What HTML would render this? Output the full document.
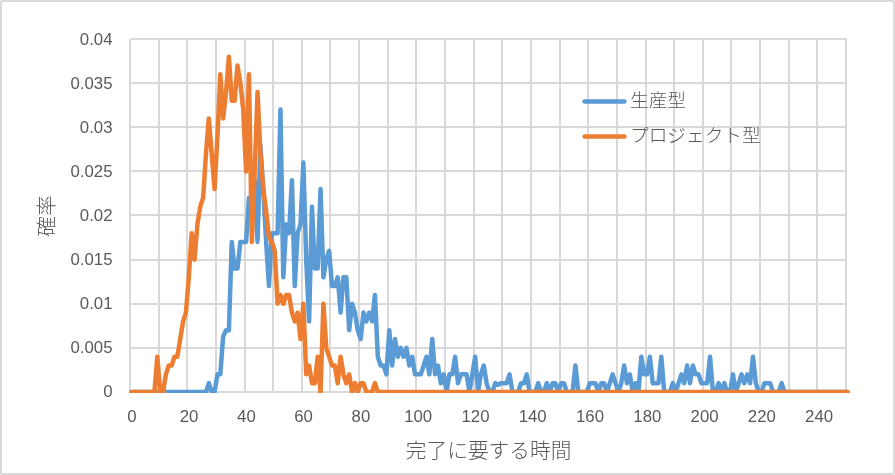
<!DOCTYPE html>
<html><head><meta charset="utf-8"><style>
html,body{margin:0;padding:0;background:#fff;}
svg{display:block;}
.t{font-family:"Liberation Sans","Noto Sans CJK JP",sans-serif;fill:#595959;}
.j{font-family:"Liberation Sans","Noto Sans CJK JP",sans-serif;fill:#595959;font-weight:300;}
</style></head><body>
<svg width="895" height="475" viewBox="0 0 895 475">
<rect x="1" y="1" width="893" height="473" rx="1" fill="#fff" stroke="#d9d9d9" stroke-width="2"/>
<defs><clipPath id="pc"><rect x="0" y="0" width="895" height="393"/></clipPath></defs>
<g stroke="#d9d9d9" stroke-width="2" fill="none">
<line x1="130" y1="38.9" x2="130" y2="393"/>
<line x1="159" y1="38.9" x2="159" y2="393"/>
<line x1="187" y1="38.9" x2="187" y2="393"/>
<line x1="216" y1="38.9" x2="216" y2="393"/>
<line x1="245" y1="38.9" x2="245" y2="393"/>
<line x1="273" y1="38.9" x2="273" y2="393"/>
<line x1="302" y1="38.9" x2="302" y2="393"/>
<line x1="330" y1="38.9" x2="330" y2="393"/>
<line x1="359" y1="38.9" x2="359" y2="393"/>
<line x1="388" y1="38.9" x2="388" y2="393"/>
<line x1="416" y1="38.9" x2="416" y2="393"/>
<line x1="445" y1="38.9" x2="445" y2="393"/>
<line x1="474" y1="38.9" x2="474" y2="393"/>
<line x1="502" y1="38.9" x2="502" y2="393"/>
<line x1="531" y1="38.9" x2="531" y2="393"/>
<line x1="560" y1="38.9" x2="560" y2="393"/>
<line x1="588" y1="38.9" x2="588" y2="393"/>
<line x1="617" y1="38.9" x2="617" y2="393"/>
<line x1="646" y1="38.9" x2="646" y2="393"/>
<line x1="674" y1="38.9" x2="674" y2="393"/>
<line x1="703" y1="38.9" x2="703" y2="393"/>
<line x1="731" y1="38.9" x2="731" y2="393"/>
<line x1="760" y1="38.9" x2="760" y2="393"/>
<line x1="789" y1="38.9" x2="789" y2="393"/>
<line x1="817" y1="38.9" x2="817" y2="393"/>
<line x1="846" y1="38.9" x2="846" y2="393"/>
<line x1="130.1" y1="39" x2="847" y2="39"/>
<line x1="130.1" y1="83" x2="847" y2="83"/>
<line x1="130.1" y1="127" x2="847" y2="127"/>
<line x1="130.1" y1="171" x2="847" y2="171"/>
<line x1="130.1" y1="215" x2="847" y2="215"/>
<line x1="130.1" y1="260" x2="847" y2="260"/>
<line x1="130.1" y1="304" x2="847" y2="304"/>
<line x1="130.1" y1="348" x2="847" y2="348"/>
<line x1="130.1" y1="392" x2="847" y2="392"/>
</g>
<g class="t" font-size="16.8">
<text x="112.5" y="45.1" text-anchor="end">0.04</text>
<text x="112.5" y="89.1" text-anchor="end">0.035</text>
<text x="112.5" y="133.1" text-anchor="end">0.03</text>
<text x="112.5" y="177.1" text-anchor="end">0.025</text>
<text x="112.5" y="221.1" text-anchor="end">0.02</text>
<text x="112.5" y="265.1" text-anchor="end">0.015</text>
<text x="112.5" y="309.1" text-anchor="end">0.01</text>
<text x="112.5" y="353.1" text-anchor="end">0.005</text>
<text x="112.5" y="397.1" text-anchor="end">0</text>
<text x="131.8" y="422.3" text-anchor="middle">0</text>
<text x="189.1" y="422.3" text-anchor="middle">20</text>
<text x="246.4" y="422.3" text-anchor="middle">40</text>
<text x="303.6" y="422.3" text-anchor="middle">60</text>
<text x="360.9" y="422.3" text-anchor="middle">80</text>
<text x="418.2" y="422.3" text-anchor="middle">100</text>
<text x="475.5" y="422.3" text-anchor="middle">120</text>
<text x="532.7" y="422.3" text-anchor="middle">140</text>
<text x="590.0" y="422.3" text-anchor="middle">160</text>
<text x="647.3" y="422.3" text-anchor="middle">180</text>
<text x="704.6" y="422.3" text-anchor="middle">200</text>
<text x="761.8" y="422.3" text-anchor="middle">220</text>
<text x="819.1" y="422.3" text-anchor="middle">240</text>
</g>
<g fill="none" stroke-width="4.5" stroke-linejoin="round" stroke-linecap="round">
<g clip-path="url(#pc)">
<path stroke="#5B9BD5" d="M131.53,392.00 L134.40,392.00 L137.26,392.00 L140.12,392.00 L142.99,392.00 L145.85,392.00 L148.71,392.00 L151.58,392.00 L154.44,392.00 L157.31,392.00 L160.17,392.00 L163.03,392.00 L165.90,392.00 L168.76,392.00 L171.63,392.00 L174.49,392.00 L177.35,392.00 L180.22,392.00 L183.08,392.00 L185.94,392.00 L188.81,392.00 L191.67,392.00 L194.54,392.00 L197.40,392.00 L200.26,392.00 L203.13,392.00 L205.99,392.00 L208.85,383.18 L211.72,392.00 L214.58,392.00 L217.45,374.35 L220.31,374.35 L223.17,336.40 L226.04,330.23 L228.90,330.23 L231.76,241.97 L234.63,268.45 L237.49,268.45 L240.36,241.97 L243.22,241.97 L246.08,241.97 L248.95,197.85 L251.81,215.50 L254.68,180.20 L257.54,241.97 L260.40,144.90 L263.27,189.03 L266.13,241.97 L268.99,286.10 L271.86,233.15 L274.72,233.15 L277.59,233.15 L280.45,109.60 L283.31,277.27 L286.18,224.33 L289.04,233.15 L291.90,180.20 L294.77,286.10 L297.63,233.15 L300.50,224.33 L303.36,162.55 L306.22,259.62 L309.09,321.40 L311.95,206.67 L314.82,268.45 L317.68,268.45 L320.54,189.03 L323.41,277.27 L326.27,259.62 L329.13,250.80 L332.00,286.10 L334.86,286.10 L337.73,277.27 L340.59,312.57 L343.45,277.27 L346.32,277.27 L349.18,330.23 L352.04,303.75 L354.91,312.57 L357.77,330.23 L360.64,339.05 L363.50,312.57 L366.36,321.40 L369.23,312.57 L372.09,321.40 L374.95,294.93 L377.82,356.70 L380.68,365.52 L383.55,365.52 L386.41,374.35 L389.27,330.23 L392.14,365.52 L395.00,339.05 L397.87,356.70 L400.73,347.88 L403.59,356.70 L406.46,347.88 L409.32,365.52 L412.18,356.70 L415.05,374.35 L417.91,374.35 L420.78,374.35 L423.64,365.52 L426.50,356.70 L429.37,374.35 L432.23,339.05 L435.09,374.35 L437.96,365.52 L440.82,383.18 L443.69,374.35 L446.55,392.00 L449.41,374.35 L452.28,374.35 L455.14,356.70 L458.01,383.18 L460.87,374.35 L463.73,374.35 L466.60,374.35 L469.46,392.00 L472.32,374.35 L475.19,356.70 L478.05,392.00 L480.92,374.35 L483.78,365.52 L486.64,383.18 L489.51,392.00 L492.37,392.00 L495.23,383.18 L498.10,384.94 L500.96,383.18 L503.83,383.18 L506.69,383.18 L509.55,374.35 L512.42,392.00 L515.28,392.00 L518.14,392.00 L521.01,383.18 L523.87,383.18 L526.74,374.35 L529.60,392.00 L532.46,392.00 L535.33,392.00 L538.19,383.18 L541.06,392.00 L543.92,392.00 L546.78,383.18 L549.65,392.00 L552.51,383.18 L555.37,383.18 L558.24,392.00 L561.10,383.18 L563.97,383.18 L566.83,392.00 L569.69,392.00 L572.56,392.00 L575.42,365.52 L578.28,392.00 L581.15,392.00 L584.01,392.00 L586.88,392.00 L589.74,383.18 L592.60,383.18 L595.47,383.18 L598.33,392.00 L601.20,383.18 L604.06,383.18 L606.92,392.00 L609.79,383.18 L612.65,374.35 L615.51,383.18 L618.38,392.00 L621.24,383.18 L624.11,365.52 L626.97,383.18 L629.83,374.35 L632.70,392.00 L635.56,383.18 L638.42,392.00 L641.29,356.70 L644.15,374.35 L647.02,374.35 L649.88,356.70 L652.74,383.18 L655.61,383.18 L658.47,383.18 L661.33,356.70 L664.20,392.00 L667.06,392.00 L669.93,392.00 L672.79,383.18 L675.65,392.00 L678.52,383.18 L681.38,374.35 L684.25,383.18 L687.11,365.52 L689.97,383.18 L692.84,365.52 L695.70,374.35 L698.56,374.35 L701.43,383.18 L704.29,383.18 L707.16,383.18 L710.02,356.70 L712.88,392.00 L715.75,392.00 L718.61,383.18 L721.47,392.00 L724.34,383.18 L727.20,392.00 L730.07,392.00 L732.93,374.35 L735.79,392.00 L738.66,383.18 L741.52,374.35 L744.39,383.18 L747.25,374.35 L750.11,383.18 L752.98,356.70 L755.84,383.18 L758.70,392.00 L761.57,392.00 L764.43,383.18 L767.30,383.18 L770.16,383.18 L773.02,392.00 L775.89,392.00 L778.75,392.00 L781.61,383.18 L784.48,392.00 L787.34,392.00 L790.21,392.00 L793.07,392.00 L795.93,392.00 L798.80,392.00 L801.66,392.00 L804.52,392.00 L807.39,392.00 L810.25,392.00 L813.12,392.00 L815.98,392.00 L818.84,392.00 L821.71,392.00 L824.57,392.00 L827.44,392.00 L830.30,392.00 L833.16,392.00 L836.03,392.00 L838.89,392.00 L841.75,392.00 L844.62,392.00 L847.48,392.00"/>
<path stroke="#ED7D31" d="M131.53,392.00 L134.40,392.00 L137.26,392.00 L140.12,392.00 L142.99,392.00 L145.85,392.00 L148.71,392.00 L151.58,392.00 L154.44,392.00 L157.31,356.70 L160.17,392.00 L163.03,392.00 L165.90,374.35 L168.76,365.52 L171.63,365.52 L174.49,356.70 L177.35,356.70 L180.22,339.05 L183.08,321.40 L185.94,312.57 L188.81,277.27 L191.67,233.15 L194.54,259.62 L197.40,224.33 L200.26,206.67 L203.13,197.85 L205.99,153.72 L208.85,118.43 L211.72,153.72 L214.58,189.03 L217.45,136.07 L220.31,74.30 L223.17,118.43 L226.04,91.95 L228.90,56.65 L231.76,100.77 L234.63,100.77 L237.49,65.48 L240.36,83.12 L243.22,109.60 L246.08,171.38 L248.95,74.30 L251.81,241.97 L254.68,171.38 L257.54,91.95 L260.40,153.72 L263.27,189.03 L266.13,211.09 L268.99,237.56 L271.86,241.97 L274.72,250.80 L277.59,303.75 L280.45,294.93 L283.31,303.75 L286.18,294.93 L289.04,294.93 L291.90,312.57 L294.77,321.40 L297.63,312.57 L300.50,339.05 L303.36,303.75 L306.22,374.35 L309.09,365.52 L311.95,383.18 L314.82,383.18 L317.68,356.70 L320.54,392.00 L323.41,303.75 L326.27,347.88 L329.13,356.70 L332.00,365.52 L334.86,365.52 L337.73,383.18 L340.59,356.70 L343.45,374.35 L346.32,383.18 L349.18,374.35 L352.04,392.00 L354.91,383.18 L357.77,392.00 L360.64,383.18 L363.50,383.18 L366.36,392.00 L369.23,392.00 L372.09,392.00 L374.95,383.18 L377.82,392.00 L380.68,392.00 L383.55,392.00 L386.41,392.00 L389.27,392.00 L392.14,392.00 L395.00,392.00 L397.87,392.00 L400.73,392.00 L403.59,392.00 L406.46,392.00 L409.32,392.00 L412.18,392.00 L415.05,392.00 L417.91,392.00 L420.78,392.00 L423.64,392.00 L426.50,392.00 L429.37,392.00 L432.23,392.00 L435.09,392.00 L437.96,392.00 L440.82,392.00 L443.69,392.00 L446.55,392.00 L449.41,392.00 L452.28,392.00 L455.14,392.00 L458.01,392.00 L460.87,392.00 L463.73,392.00 L466.60,392.00 L469.46,392.00 L472.32,392.00 L475.19,392.00 L478.05,392.00 L480.92,392.00 L483.78,392.00 L486.64,392.00 L489.51,392.00 L492.37,392.00 L495.23,392.00 L498.10,392.00 L500.96,392.00 L503.83,392.00 L506.69,392.00 L509.55,392.00 L512.42,392.00 L515.28,392.00 L518.14,392.00 L521.01,392.00 L523.87,392.00 L526.74,392.00 L529.60,392.00 L532.46,392.00 L535.33,392.00 L538.19,392.00 L541.06,392.00 L543.92,392.00 L546.78,392.00 L549.65,392.00 L552.51,392.00 L555.37,392.00 L558.24,392.00 L561.10,392.00 L563.97,392.00 L566.83,392.00 L569.69,392.00 L572.56,392.00 L575.42,392.00 L578.28,392.00 L581.15,392.00 L584.01,392.00 L586.88,392.00 L589.74,392.00 L592.60,392.00 L595.47,392.00 L598.33,392.00 L601.20,392.00 L604.06,392.00 L606.92,392.00 L609.79,392.00 L612.65,392.00 L615.51,392.00 L618.38,392.00 L621.24,392.00 L624.11,392.00 L626.97,392.00 L629.83,392.00 L632.70,392.00 L635.56,392.00 L638.42,392.00 L641.29,392.00 L644.15,392.00 L647.02,392.00 L649.88,392.00 L652.74,392.00 L655.61,392.00 L658.47,392.00 L661.33,392.00 L664.20,392.00 L667.06,392.00 L669.93,392.00 L672.79,392.00 L675.65,392.00 L678.52,392.00 L681.38,392.00 L684.25,392.00 L687.11,392.00 L689.97,392.00 L692.84,392.00 L695.70,392.00 L698.56,392.00 L701.43,392.00 L704.29,392.00 L707.16,392.00 L710.02,392.00 L712.88,392.00 L715.75,392.00 L718.61,392.00 L721.47,392.00 L724.34,392.00 L727.20,392.00 L730.07,392.00 L732.93,392.00 L735.79,392.00 L738.66,392.00 L741.52,392.00 L744.39,392.00 L747.25,392.00 L750.11,392.00 L752.98,392.00 L755.84,392.00 L758.70,392.00 L761.57,392.00 L764.43,392.00 L767.30,392.00 L770.16,392.00 L773.02,392.00 L775.89,392.00 L778.75,392.00 L781.61,392.00 L784.48,392.00 L787.34,392.00 L790.21,392.00 L793.07,392.00 L795.93,392.00 L798.80,392.00 L801.66,392.00 L804.52,392.00 L807.39,392.00 L810.25,392.00 L813.12,392.00 L815.98,392.00 L818.84,392.00 L821.71,392.00 L824.57,392.00 L827.44,392.00 L830.30,392.00 L833.16,392.00 L836.03,392.00 L838.89,392.00 L841.75,392.00 L844.62,392.00 L847.48,392.00"/>
</g>
<line x1="584.6" y1="101.6" x2="624.4" y2="101.6" stroke="#5B9BD5"/>
<line x1="584.6" y1="136.5" x2="624.4" y2="136.5" stroke="#ED7D31"/>
</g>
<g class="j" font-size="18.67">
<text x="630" y="106.6">生産型</text>
<text x="630" y="141.7">プロジェクト型</text>
</g>
<g class="j" font-size="20.7">
<text x="488.6" y="457.5" text-anchor="middle">完了に要する時間</text>
<text transform="translate(53.5,216) rotate(-90)" text-anchor="middle">確率</text>
</g>
</svg>
</body></html>
